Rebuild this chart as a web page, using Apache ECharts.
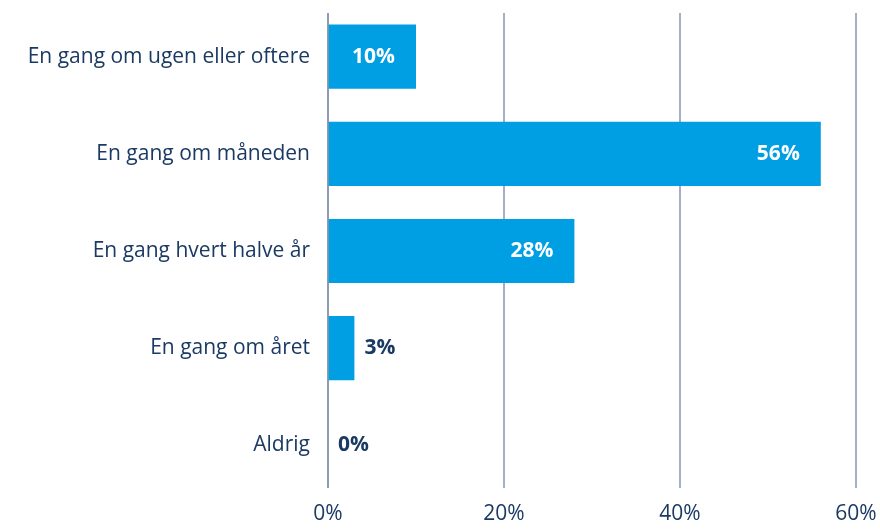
<!DOCTYPE html>
<html>
<head>
<meta charset="utf-8">
<script src="https://cdn.jsdelivr.net/npm/echarts@6/dist/echarts.min.js"></script>
<style>
  html, body { margin: 0; padding: 0; background: #ffffff; }
  #chart { width: 880px; height: 529px; }
</style>
</head>
<body>
<div id="chart"></div>
<script>
// Answer categories, top to bottom
const categories = [
  'En gang om ugen eller oftere',
  'En gang om måneden',
  'En gang hvert halve år',
  'En gang om året',
  'Aldrig'
];
// Share of respondents (%)
const shares = [10, 56, 28, 3, 0];
// Value axis ticks (%)
const tickValues = [0, 20, 40, 60];

const navy = '#1b3a63';
const barBlue = '#009fe3';
const gridGrey = '#8796ae';
const fontFamily = '"Open Sans", "Noto Sans", sans-serif';

// Bars wide enough to hold their value label inside; short ones get it outside
const INSIDE_MIN = 8;

const chart = echarts.init(document.getElementById('chart'), null, { renderer: 'canvas' });

chart.setOption({
  animation: false,
  backgroundColor: '#ffffff',
  textStyle: { fontFamily },
  grid: [
    // bars
    { left: 328, width: 528, top: 8, height: 486, containLabel: false },
    // vertical guide lines and tick labels
    { left: 328, width: 528, top: 13, height: 475, containLabel: false }
  ],
  xAxis: [
    {
      gridIndex: 0,
      type: 'value',
      min: tickValues[0],
      max: tickValues[tickValues.length - 1],
      interval: 20,
      axisLine: { show: false },
      axisTick: { show: false },
      axisLabel: { show: false },
      splitLine: { show: false }
    },
    {
      gridIndex: 1,
      type: 'value',
      min: tickValues[0],
      max: tickValues[tickValues.length - 1],
      interval: 20,
      axisLine: { show: false },
      axisTick: { show: false },
      axisLabel: {
        show: true,
        margin: 16,
        color: navy,
        fontSize: 21,
        fontFamily,
        formatter: v => v + '%'
      },
      splitLine: { show: true, lineStyle: { color: gridGrey, width: 1.5 } }
    }
  ],
  yAxis: [
    {
      gridIndex: 0,
      type: 'category',
      inverse: true,
      data: categories,
      axisLine: { show: false },
      axisTick: { show: false },
      axisLabel: {
        margin: 18,
        color: navy,
        fontSize: 21,
        fontFamily
      }
    },
    {
      gridIndex: 1,
      type: 'value',
      show: false
    }
  ],
  series: [
    {
      type: 'bar',
      xAxisIndex: 0,
      yAxisIndex: 0,
      barCategoryGap: '34%',
      data: shares.map(v => ({
        value: v,
        label: v >= INSIDE_MIN
          ? { position: 'insideRight', distance: 21, color: '#ffffff' }
          : { position: 'right', distance: 10, color: navy }
      })),
      itemStyle: { color: barBlue },
      label: {
        show: true,
        fontSize: 21,
        fontWeight: 'bold',
        fontFamily,
        formatter: p => p.value + '%'
      },
      z: 3
    },
    {
      // zero baseline
      type: 'line',
      xAxisIndex: 1,
      yAxisIndex: 1,
      data: [],
      markLine: {
        silent: true,
        symbol: 'none',
        label: { show: false },
        lineStyle: { color: gridGrey, width: 1.5, type: 'solid' },
        data: [{ xAxis: 0 }]
      }
    }
  ]
});
</script>
</body>
</html>
